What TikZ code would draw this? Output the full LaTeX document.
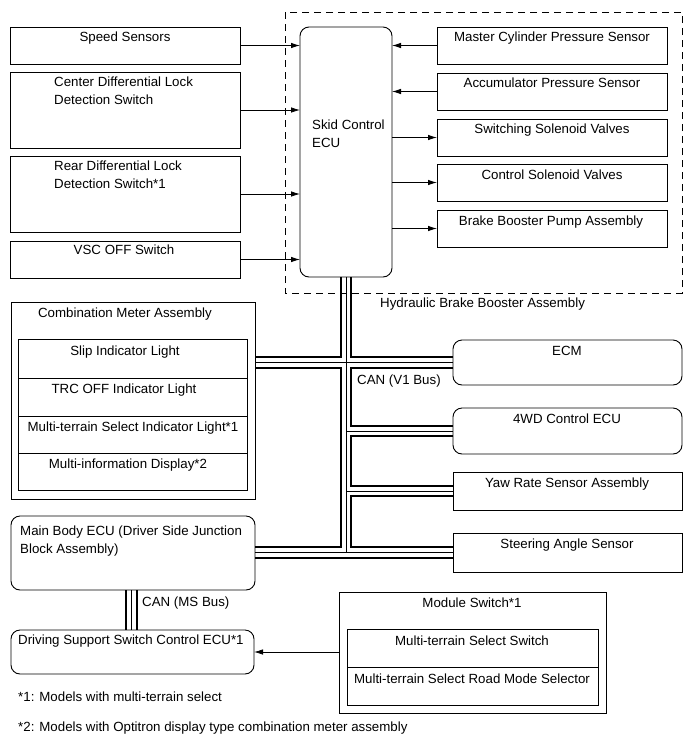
\documentclass[tikz,border=0pt]{standalone}
\usepackage{fontspec}
\setmainfont{Liberation Sans}
\usetikzlibrary{arrows.meta,calc}
\begin{document}
\begin{tikzpicture}[x=1pt,y=-1pt,
  font=\fontsize{13.3}{17.5}\selectfont,
  box/.style={draw,line width=0.9pt,anchor=north west,inner sep=0pt,outer sep=0pt},
  rbox/.style={box,rounded corners=9pt},
  txt/.style={inner sep=0pt,anchor=north},
  ltxt/.style={inner sep=0pt,anchor=north west,align=left},
  arr/.style={line width=0.8pt,-{Latex[length=9pt,width=5.5pt]}},
  busthick/.style={line width=2.2pt,line join=miter},
  busthin/.style={line width=0.8pt},
  dashedbox/.style={draw,line width=0.8pt,dash pattern=on 7pt off 5pt}]
\useasboundingbox (0,0) rectangle (690,756);

% left inputs
\node[box,minimum width=230pt,minimum height=37pt] (speed) at (10,27) {};
\node[box,minimum width=230pt,minimum height=76pt] (cdiff) at (10,72) {};
\node[box,minimum width=230pt,minimum height=76pt] (rdiff) at (10,156) {};
\node[box,minimum width=230pt,minimum height=37pt] (vsc) at (10,241) {};
\node[txt] (tspeed) at (125,32) {Speed Sensors};
\node[ltxt] (tcdiff) at (54,77) {Center Differential Lock\\Detection Switch};
\node[ltxt] (trdiff) at (54,161) {Rear Differential Lock\\Detection Switch*1};
\node[txt] (tvsc) at (124,245) {VSC OFF Switch};

% hydraulic brake booster assembly
\draw[dashedbox] (285,12) rectangle (682,293);
\node[ltxt] (thbba) at (380,298) {Hydraulic Brake Booster Assembly};
\node[rbox,minimum width=92pt,minimum height=250pt] (ecu) at (300,27) {};
\node[ltxt] (tecu) at (312,120) {Skid Control\\ECU};
\node[box,minimum width=230pt,minimum height=37pt] (mcps) at (437,27) {};
\node[box,minimum width=230pt,minimum height=37pt] (aps) at (437,73) {};
\node[box,minimum width=230pt,minimum height=37pt] (ssv) at (437,119) {};
\node[box,minimum width=230pt,minimum height=37pt] (csv) at (437,164) {};
\node[box,minimum width=230pt,minimum height=37pt] (bbpa) at (437,210) {};
\node[txt] (tmcps) at (552,32) {Master Cylinder Pressure Sensor};
\node[txt] (taps) at (552,78) {Accumulator Pressure Sensor};
\node[txt] (tssv) at (552,124) {Switching Solenoid Valves};
\node[txt] (tcsv) at (552,170) {Control Solenoid Valves};
\node[txt] (tbbpa) at (551,216) {Brake Booster Pump Assembly};

% arrows
\foreach \n in {speed,cdiff,rdiff,vsc}
  \draw[arr] (\n.east) -- (\n.east -| ecu.west);
\foreach \n in {mcps,aps}
  \draw[arr] (\n.west) -- (\n.west -| ecu.east);
\foreach \n in {ssv,csv,bbpa}
  \draw[arr] (\n.west -| ecu.east) -- (\n.west);

% combination meter
\node[box,minimum width=244pt,minimum height=197pt] (cma) at (11,302) {};
\node[txt] (tcma) at (125,308) {Combination Meter Assembly};
\node[box,minimum width=229pt,minimum height=39pt] (slip) at (18,339) {};
\node[box,minimum width=229pt,minimum height=38pt] (trc) at (18,378) {};
\node[box,minimum width=229pt,minimum height=37pt] (mtsil) at (18,416) {};
\node[box,minimum width=229pt,minimum height=37pt] (mid) at (18,453) {};
\node[txt] (tslip) at (125,346) {Slip Indicator Light};
\node[txt] (ttrc) at (124,384) {TRC OFF Indicator Light};
\node[txt] (tmtsil) at (133,422) {Multi-terrain Select Indicator Light*1};
\node[txt] (tmid) at (128,459) {Multi-information Display*2};

% right CAN nodes
\node[rbox,minimum width=229pt,minimum height=45pt] (ecm) at (453,340) {};
\node[rbox,minimum width=229pt,minimum height=46pt] (fwd) at (453,408) {};
\node[box,minimum width=229pt,minimum height=38pt] (yaw) at (453,472) {};
\node[box,minimum width=229pt,minimum height=39pt] (steer) at (453,533) {};
\node[txt] (tecm) at (567,346) {ECM};
\node[txt] (tfwd) at (567,414) {4WD Control ECU};
\node[txt] (tyaw) at (567,478) {Yaw Rate Sensor Assembly};
\node[txt] (tsteer) at (567,539) {Steering Angle Sensor};
\node[ltxt] (tv1) at (357,375) {CAN (V1 Bus)};

% main body ECU
\node[rbox,minimum width=244pt,minimum height=74pt] (mbe) at (11,516) {};
\node[ltxt] (tmbe) at (20,526) {Main Body ECU (Driver Side Junction\\Block Assembly)};

% V1 bus
\def\bd{5.3}
\coordinate (T) at (ecu.south);
\draw[busthick] ($(T)+(-\bd,0)$) |- ($(ecm.west -| cma.east)+(0,-\bd)$);
\draw[busthick] ($(T)+(\bd,0)$) |- ($(ecm.west)+(0,-\bd)$);
\draw[busthick] ($(ecm.west -| cma.east)+(0,\bd)$) -| ($(T |- steer.west)+(-\bd,-\bd)$) -- ($(steer.west -| mbe.east)+(0,-\bd)$);
\draw[busthick] ($(ecm.west)+(0,\bd)$) -| ($(T |- fwd.west)+(\bd,-\bd)$) -- ($(fwd.west)+(0,-\bd)$);
\draw[busthick] ($(fwd.west)+(0,\bd)$) -| ($(T |- yaw.west)+(\bd,-\bd)$) -- ($(yaw.west)+(0,-\bd)$);
\draw[busthick] ($(yaw.west)+(0,\bd)$) -| ($(T |- steer.west)+(\bd,-\bd)$) -- ($(steer.west)+(0,-\bd)$);
\draw[busthick] ($(steer.west -| mbe.east)+(0,\bd)$) -- ($(steer.west)+(0,\bd)$);
\draw[busthin] (T) -- (T |- steer.west);
\draw[busthin] (ecm.west -| cma.east) -- (ecm.west);
\draw[busthin] (T |- fwd.west) -- (fwd.west);
\draw[busthin] (T |- yaw.west) -- (yaw.west);
\draw[busthin] (steer.west -| mbe.east) -- (steer.west);

% driving support
\node[rbox,minimum width=243pt,minimum height=44pt] (dss) at (11,630) {};
\node[ltxt] (tdss) at (18,635) {Driving Support Switch Control ECU*1};
\coordinate (ms) at (131.5,600);
\draw[busthick] ($(ms |- mbe.south)+(-\bd,0)$) -- ($(ms |- dss.north)+(-\bd,0)$);
\draw[busthick] ($(ms |- mbe.south)+(\bd,0)$) -- ($(ms |- dss.north)+(\bd,0)$);
\draw[busthin] (ms |- mbe.south) -- (ms |- dss.north);
\node[ltxt] (tms) at (142,597) {CAN (MS Bus)};

% module switch
\node[box,minimum width=267pt,minimum height=121pt] (msw) at (339,592) {};
\node[txt] (tmsw) at (472,598) {Module Switch*1};
\node[box,minimum width=251pt,minimum height=38pt] (mtss) at (347,629) {};
\node[box,minimum width=251pt,minimum height=38pt] (mtsr) at (347,667) {};
\node[txt] (tmtss) at (472,636) {Multi-terrain Select Switch};
\node[txt] (tmtsr) at (472,674) {Multi-terrain Select Road Mode Selector};
\draw[arr] (msw.west |- dss.east) -- (dss.east);

% footnotes
\node[ltxt] (fn1) at (18,692) {*1: Models with multi-terrain select};
\node[ltxt] (fn2) at (18,722) {*2: Models with Optitron display type combination meter assembly};
\end{tikzpicture}
\end{document}
